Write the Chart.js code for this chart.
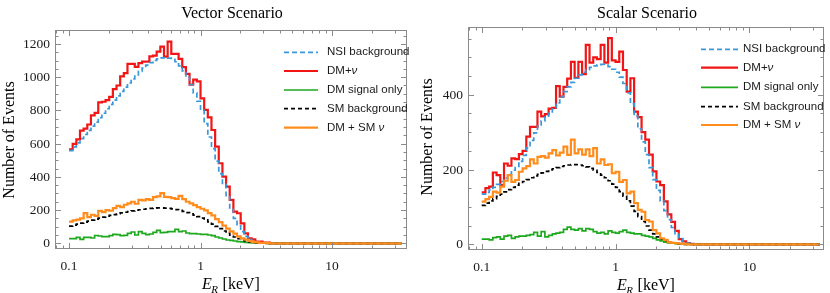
<!DOCTYPE html>
<html>
<head>
<meta charset="utf-8">
<script src="https://cdn.jsdelivr.net/npm/chart.js@4.4.1/dist/chart.umd.min.js"></script>
<style>
  html, body { margin: 0; padding: 0; background: #fff; }
  #wrap { position: relative; width: 830px; height: 293px; }
  canvas { position: absolute; top: 0; }
</style>
</head>
<body>
<div id="wrap">
  <canvas id="vector" width="415" height="293" style="left:0"></canvas>
  <canvas id="scalar" width="415" height="293" style="left:415px"></canvas>
</div>
<script>
// binning: log bins starting at 0.1 keV, 36 bins per decade
const BIN_START = 0.1;
const BINS_PER_DECADE = 36;

const ZERO_TAIL = [0, 0, 0, 0, 0, 0, 0, 0, 0, 0,
  0, 0, 0, 0, 0, 0, 0, 0, 0, 0,
  0, 0, 0, 0, 0, 0, 0, 0, 0, 0, 0];

// --- Vector scenario ---
const nsiVector = [558, 580, 605, 630, 655, 680, 705, 730, 757, 783,
  810, 836, 862, 888, 914, 940, 965, 990, 1013, 1035,
  1055, 1073, 1088, 1101, 1110, 1116, 1118, 1115, 1107, 1093,
  1068, 1038, 1000, 955, 905, 855, 800, 720, 640, 570,
  495, 420, 355, 280, 205, 150, 105, 70, 42, 24,
  12, 6, 3, 1, 0, 0, 0, 0, 0, 0].concat(ZERO_TAIL);

const dmNuVector = [566, 598, 626, 678, 690, 715, 770, 785, 848, 852,
  862, 882, 928, 950, 1005, 1024, 1080, 1080, 1062, 1085,
  1094, 1094, 1125, 1130, 1154, 1184, 1124, 1214, 1140, 1140,
  1110, 1060, 1020, 955, 985, 975, 873, 803, 758, 682,
  582, 482, 401, 341, 261, 191, 181, 120, 60, 30,
  24, 10, 10, 4, 4, 0, 0, 0, 0, 0].concat(ZERO_TAIL);

const dmOnlyVector = [28, 28, 36, 24, 36, 36, 32, 47, 44, 40,
  40, 46, 54, 52, 46, 48, 60, 68, 50, 70,
  60, 52, 56, 66, 78, 64, 66, 70, 70, 84,
  70, 74, 62, 58, 58, 56, 54, 54, 50, 46,
  38, 32, 26, 20, 18, 14, 10, 8, 6, 4,
  3, 2, 1, 1, 0, 0, 0, 0, 0, 0].concat(ZERO_TAIL);

// SM background is the same in both panels
const smBackground = [104, 110, 116, 122, 128, 134, 140, 146, 152, 158,
  163, 168, 173, 178, 183, 187, 191, 195, 199, 202,
  205, 208, 210, 212, 213, 213, 212, 210, 207, 203,
  198, 192, 185, 178, 170, 161, 152, 141, 129, 116,
  102, 88, 74, 61, 49, 38, 28, 20, 14, 9,
  6, 3, 2, 1, 0, 0, 0, 0, 0, 0].concat(ZERO_TAIL);

const dmSmVector = [130, 138, 142, 150, 182, 158, 172, 165, 195, 188,
  200, 196, 212, 225, 218, 232, 240, 250, 238, 262,
  258, 266, 262, 278, 282, 302, 280, 278, 272, 268,
  285, 266, 250, 240, 230, 218, 208, 198, 182, 168,
  146, 128, 106, 88, 72, 58, 42, 30, 22, 14,
  9, 6, 3, 2, 1, 0, 0, 0, 0, 0].concat(ZERO_TAIL);

// --- Scalar scenario ---
const nsiScalar = [134, 139, 145, 152, 160, 168, 177, 187, 198, 208,
  222, 238, 258, 278, 298, 316, 330, 340, 350, 362,
  378, 394, 408, 421, 433, 444, 453, 460, 467, 473,
  477, 480, 481, 479, 475, 468, 460, 447, 430, 405,
  376, 343, 309, 274, 240, 205, 173, 144, 116, 90,
  66, 45, 28, 15, 7, 3, 1, 0, 0, 0].concat(ZERO_TAIL);

const dmNuScalar = [139, 150, 154, 192, 185, 158, 216, 210, 230, 228,
  241, 250, 288, 314, 314, 355, 342, 348, 363, 365,
  423, 395, 421, 443, 488, 445, 488, 455, 533, 486,
  500, 495, 533, 486, 551, 492, 488, 515, 466, 408,
  444, 355, 340, 300, 280, 240, 195, 168, 158, 115,
  80, 60, 36, 14, 8, 3, 1, 0, 0, 0].concat(ZERO_TAIL);

const dmOnlyScalar = [14, 14, 12, 18, 20, 14, 22, 24, 16, 20,
  22, 22, 24, 26, 32, 22, 34, 20, 24, 28,
  30, 32, 40, 46, 40, 38, 42, 36, 42, 40,
  34, 30, 32, 28, 36, 32, 30, 34, 38, 32,
  30, 28, 28, 24, 22, 20, 16, 12, 9, 6,
  4, 3, 2, 1, 1, 0, 0, 0, 0, 0].concat(ZERO_TAIL);

const dmSmScalar = [114, 121, 127, 141, 138, 154, 170, 185, 167, 172,
  194, 203, 209, 227, 216, 234, 236, 232, 243, 252,
  238, 245, 261, 239, 280, 243, 254, 240, 254, 236,
  257, 216, 227, 212, 214, 190, 194, 167, 172, 136,
  141, 110, 92, 87, 65, 61, 38, 29, 16, 12,
  6, 4, 3, 2, 1, 0, 0, 0, 0, 0].concat(ZERO_TAIL);

const xTickLabels = ["0.1", "1", "10"];
const yTicksVector = [0, 200, 400, 600, 800, 1000, 1200];
const yTicksScalar = [0, 200, 400];

const SERIF = '"Liberation Serif", "Times New Roman", serif';
const SANS = '"Liberation Sans", Arial, sans-serif';

const STYLES = {
  nsi:   { color: "#3a98da", width: 1.7, dash: [5, 3] },
  dmnu:  { color: "#f21515", width: 2.2, dash: [] },
  dm:    { color: "#1ea81e", width: 1.7, dash: [] },
  sm:    { color: "#000000", width: 1.7, dash: [4, 3] },
  dmsm:  { color: "#ff8c1c", width: 2.2, dash: [] },
};

const LEGEND = [
  { key: "nsi", parts: [["NSI background", false]] },
  { key: "dmnu", parts: [["DM+", false], ["\u03bd", true]] },
  { key: "dm", parts: [["DM signal only", false]] },
  { key: "sm", parts: [["SM background", false]] },
  { key: "dmsm", parts: [["DM + SM ", false], ["\u03bd", true]] },
];

function toSteps(values) {
  // one point at the left edge of each bin, plus the last right edge
  const pts = values.map((v, i) => ({ x: BIN_START * Math.pow(10, i / BINS_PER_DECADE), y: v }));
  const n = values.length;
  pts.push({ x: BIN_START * Math.pow(10, n / BINS_PER_DECADE), y: values[n - 1] });
  return pts;
}

function dataset(key, values, order) {
  const s = STYLES[key];
  return {
    data: toSteps(values),
    stepped: true,
    borderColor: s.color,
    borderWidth: s.width,
    borderDash: s.dash,
    borderJoinStyle: "miter",
    pointRadius: 0,
    fill: false,
    order: order,
  };
}

function framePlugin(cfg) {
  return {
    id: "frame",
    afterDatasetsDraw(chart) {
      const ctx = chart.ctx;
      const a = chart.chartArea;
      const xs = chart.scales.x;
      const ys = chart.scales.y;
      ctx.save();

      // frame
      ctx.strokeStyle = "#8a8a8a";
      ctx.lineWidth = 1;
      ctx.setLineDash([]);
      ctx.strokeRect(Math.round(a.left) + 0.5, Math.round(a.top) + 0.5,
        Math.round(a.right - a.left) - 1, Math.round(a.bottom - a.top) - 1);

      function xTick(v, len) {
        const px = Math.round(xs.getPixelForValue(v)) + 0.5;
        ctx.beginPath();
        ctx.moveTo(px, a.bottom); ctx.lineTo(px, a.bottom - len);
        ctx.moveTo(px, a.top); ctx.lineTo(px, a.top + len);
        ctx.stroke();
      }
      function yTick(v, len) {
        const py = Math.round(ys.getPixelForValue(v)) + 0.5;
        ctx.beginPath();
        ctx.moveTo(a.left, py); ctx.lineTo(a.left + len, py);
        ctx.moveTo(a.right, py); ctx.lineTo(a.right - len, py);
        ctx.stroke();
      }

      // x ticks (log)
      [0.01, 0.1, 1, 10].forEach(d => {
        for (let k = 1; k <= 9; k++) {
          const v = d * k;
          if (v < xs.min || v > xs.max) continue;
          xTick(v, k === 1 ? 6 : 3.5);
        }
      });
      // y ticks
      for (let v = 0; v <= ys.max; v += 50) {
        yTick(v, v % 200 === 0 ? 6 : 3.5);
      }

      // tick labels
      ctx.fillStyle = "#1a1a1a";
      ctx.font = "13.5px " + SERIF;
      ctx.textAlign = "center";
      ctx.textBaseline = "middle";
      xTickLabels.forEach(t => {
        ctx.fillText(t, xs.getPixelForValue(parseFloat(t)), a.bottom + 17.5);
      });
      ctx.textAlign = "right";
      cfg.yTicks.forEach(v => {
        ctx.fillText(String(v), a.left - 5, ys.getPixelForValue(v) + 0.5);
      });

      // title
      ctx.fillStyle = "#000";
      ctx.font = "16px " + SERIF;
      ctx.textAlign = "center";
      ctx.textBaseline = "alphabetic";
      ctx.fillText(cfg.title, cfg.titleX, cfg.titleY);

      // y axis title
      ctx.save();
      ctx.translate(cfg.yTitleX, cfg.yTitleY);
      ctx.rotate(-Math.PI / 2);
      ctx.textBaseline = "middle";
      ctx.fillText("Number of Events", 0, 0);
      ctx.restore();

      // x axis title: E_R [keV]
      ctx.textAlign = "left";
      ctx.textBaseline = "alphabetic";
      const fE = "italic 16px " + SERIF, fR = "italic 11px " + SERIF, fK = "16px " + SERIF;
      ctx.font = fE; const wE = ctx.measureText("E").width;
      ctx.font = fR; const wR = ctx.measureText("R").width;
      ctx.font = fK; const wK = ctx.measureText(" [keV]").width;
      let x0 = cfg.xTitleX - (wE + wR + wK) / 2;
      ctx.font = fE; ctx.fillText("E", x0, cfg.xTitleY); x0 += wE;
      ctx.font = fR; ctx.fillText("R", x0 - 0.5, cfg.xTitleY + 3.5); x0 += wR;
      ctx.font = fK; ctx.fillText(" [keV]", x0, cfg.xTitleY);

      // legend inside the plot
      LEGEND.forEach((e, i) => {
        const s = STYLES[e.key];
        const y = cfg.legY[i];
        ctx.strokeStyle = s.color;
        ctx.lineWidth = s.width;
        ctx.setLineDash(s.dash);
        ctx.beginPath();
        ctx.moveTo(cfg.legX0, y);
        ctx.lineTo(cfg.legX1, y);
        ctx.stroke();
        ctx.setLineDash([]);
        ctx.fillStyle = "#1a1a1a";
        ctx.textBaseline = "middle";
        let tx = cfg.legTx;
        e.parts.forEach(([t, it]) => {
          ctx.font = (it ? "italic " : "") + "11.5px " + SANS;
          ctx.fillText(t, tx, y);
          tx += ctx.measureText(t).width;
        });
      });

      ctx.restore();
    },
  };
}

function makeChart(id, series, cfg) {
  new Chart(document.getElementById(id), {
    type: "line",
    data: {
      datasets: [
        dataset("nsi", series.nsi, 3),
        dataset("dmnu", series.dmnu, 4),
        dataset("dm", series.dm, 2),
        dataset("sm", series.sm, 1),
        dataset("dmsm", series.dmsm, 0),
      ],
    },
    options: {
      responsive: false,
      animation: false,
      devicePixelRatio: 1,
      layout: { padding: cfg.pad },
      plugins: { legend: { display: false }, tooltip: { enabled: false } },
      scales: {
        x: { type: "logarithmic", min: cfg.xMin, max: cfg.xMax, display: false },
        y: { type: "linear", min: cfg.yMin, max: cfg.yMax, display: false },
      },
    },
    plugins: [framePlugin(cfg)],
  });
}

makeChart("vector",
  { nsi: nsiVector, dmnu: dmNuVector, dm: dmOnlyVector, sm: smBackground, dmsm: dmSmVector },
  {
    pad: { left: 55, right: 8, top: 30, bottom: 44 },
    xMin: 0.0782, xMax: 37.2, yMin: -34.3, yMax: 1284,
    yTicks: yTicksVector,
    title: "Vector Scenario", titleX: 232, titleY: 18,
    yTitleX: 9.5, yTitleY: 140,
    xTitleX: 231, xTitleY: 289,
    legY: [52.3, 71, 90, 108.7, 127.7], legX0: 284, legX1: 318, legTx: 327,
  });

makeChart("scalar",
  { nsi: nsiScalar, dmnu: dmNuScalar, dm: dmOnlyScalar, sm: smBackground, dmsm: dmSmScalar },
  {
    pad: { left: 53, right: 6, top: 27, bottom: 43 },
    xMin: 0.079, xMax: 36.1, yMin: -15.2, yMax: 581,
    yTicks: yTicksScalar,
    title: "Scalar Scenario", titleX: 232, titleY: 17.5,
    yTitleX: 12.5, yTitleY: 137,
    xTitleX: 231, xTitleY: 290,
    legY: [49.3, 67.7, 87.3, 106.7, 125], legX0: 286, legX1: 323, legTx: 328,
  });
</script>
</body>
</html>
